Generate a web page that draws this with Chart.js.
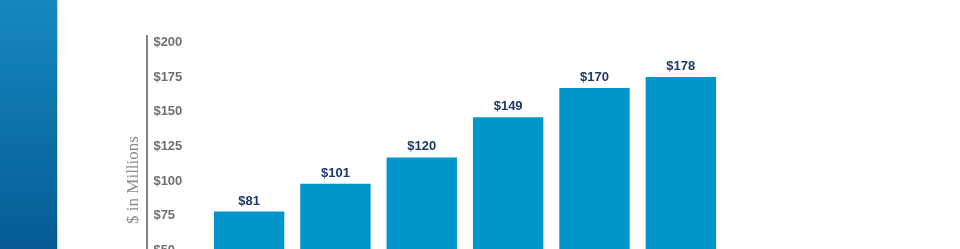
<!DOCTYPE html>
<html>
<head>
<meta charset="utf-8">
<script src="https://cdn.jsdelivr.net/npm/chart.js@4/dist/chart.umd.min.js"></script>
<style>
    html, body { margin: 0; padding: 0; background: #fff; overflow: hidden; width: 960px; height: 249px; }
    #band {
        position: absolute; left: 0; top: 0; width: 57px; height: 249px;
        background: linear-gradient(to bottom, #1589c1, #065b93);
        border-right: 1px solid #b5dbef;
    }
    #wrap { position: absolute; left: 0; top: 0; width: 960px; height: 340px; }
</style>
</head>
<body>
<div id="band"></div>
<div id="wrap"><canvas id="revenueChart"></canvas></div>
<script>
// bars, left to right (x labels fall below the visible crop)
const categories = ['Bar 1', 'Bar 2', 'Bar 3', 'Bar 4', 'Bar 5', 'Bar 6'];
const revenue = [81, 101, 120, 149, 170, 178];
const yTicks = [0, 25, 50, 75, 100, 125, 150, 175, 200];
const axisTitle = '$ in Millions';

const money = v => '$' + v;

// prints the value above each bar
const barValues = {
    id: 'barValues',
    afterDatasetsDraw(chart) {
        const ctx = chart.ctx;
        const meta = chart.getDatasetMeta(0);
        ctx.save();
        ctx.font = 'bold 13px "Liberation Sans", Arial, sans-serif';
        ctx.fillStyle = '#1c3a66';
        ctx.textAlign = 'center';
        ctx.textBaseline = 'alphabetic';
        meta.data.forEach((bar, i) => {
            ctx.fillText(money(revenue[i]), bar.x, bar.y - 7);
        });
        ctx.restore();
    }
};

document.addEventListener('DOMContentLoaded', () => {
    const ctx = document.getElementById('revenueChart').getContext('2d');
    new Chart(ctx, {
        type: 'bar',
        data: {
            labels: categories,
            datasets: [{
                data: revenue,
                backgroundColor: '#0096cc',
                borderWidth: 0,
                categoryPercentage: 1,
                barPercentage: 0.815
            }]
        },
        options: {
            responsive: true,
            maintainAspectRatio: false,
            animation: false,
            layout: { padding: { left: 119, right: 236, top: 36, bottom: 16 } },
            plugins: { legend: { display: false }, tooltip: { enabled: false } },
            scales: {
                x: { display: false },
                y: {
                    position: 'left',
                    weight: 0,
                    min: 0,
                    max: 207.5,
                    afterBuildTicks: s => { s.ticks = yTicks.map(v => ({ value: v })); },
                    afterFit: s => { s.width = 52.5; },
                    grid: { display: false, drawTicks: false },
                    border: { display: false },
                    ticks: {
                        callback: v => money(v),
                        crossAlign: 'far',
                        padding: 4,
                        labelOffset: -4,
                        color: '#6f7072',
                        font: { family: '"Liberation Sans", Arial, sans-serif', size: 13, weight: 'bold' }
                    }
                },
                gap: {
                    type: 'linear',
                    position: 'left',
                    weight: 1,
                    grid: { display: false, drawTicks: false },
                    border: { display: false },
                    ticks: { display: false },
                    afterFit: s => { s.width = 6; }
                },
                yt: {
                    type: 'linear',
                    position: 'left',
                    weight: 2,
                    grid: { display: false, drawTicks: false },
                    border: { display: true, color: '#858585', width: 2 },
                    ticks: { display: false },
                    title: {
                        display: true,
                        text: axisTitle,
                        color: '#8c8c8c',
                        padding: { top: 4, bottom: 4 },
                        font: { family: '"Liberation Serif", "Times New Roman", serif', size: 17 }
                    }
                }
            }
        },
        plugins: [barValues]
    });
});
</script>
</body>
</html>
